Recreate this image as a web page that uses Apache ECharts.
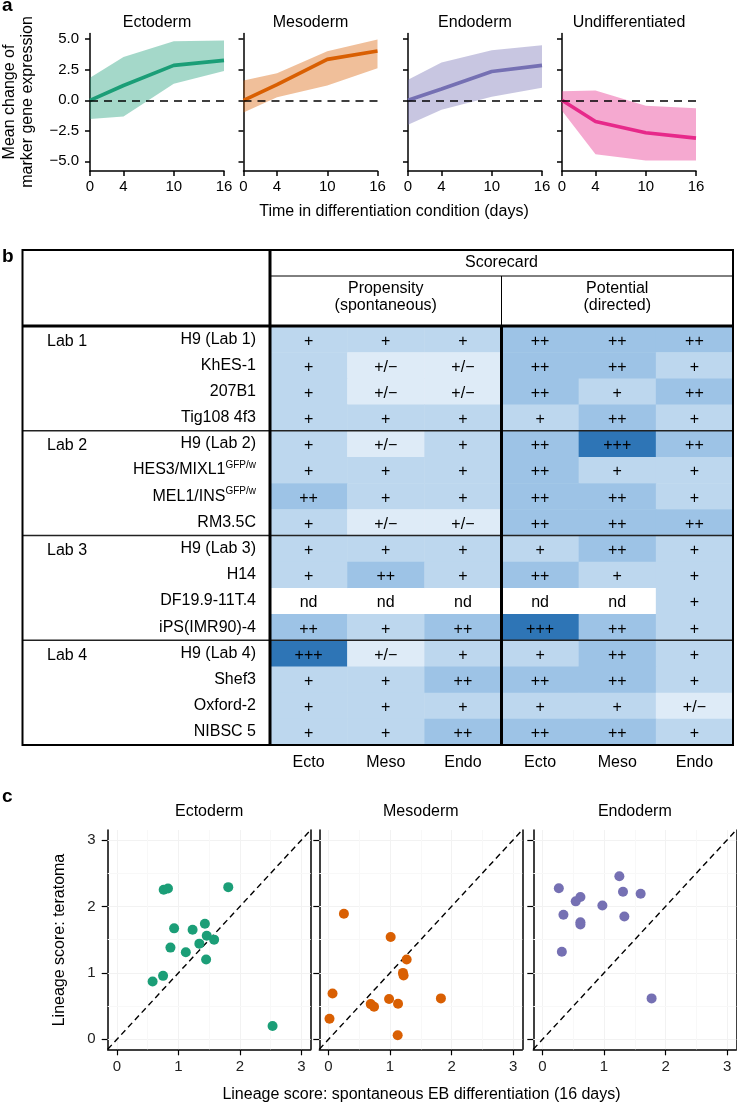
<!DOCTYPE html>
<html><head><meta charset="utf-8">
<script src="https://cdn.jsdelivr.net/npm/echarts@6/dist/echarts.min.js"></script>
<style>html,body{margin:0;padding:0;background:#fff}#c{width:737px;height:1104px}</style>
</head><body><div id="c"></div>
<script>
const FONT = '"Liberation Sans", Arial, Helvetica, sans-serif';

// ---------- Panel a data ----------
const days = [0, 4, 10, 16];
const panelANames = ['Ectoderm', 'Mesoderm', 'Endoderm', 'Undifferentiated'];
const panelAColors = ['#1b9e77', '#d95f02', '#7570b3', '#e7298a'];
const ectoMean = [0, 1.21, 2.86, 3.27];
const ectoUpper = [1.84, 3.54, 4.84, 4.89];
const ectoLower = [-1.54, -1.32, 1.35, 2.39];
const mesoMean = [0, 1.29, 3.35, 4.04];
const mesoUpper = [1.62, 2.22, 4.01, 4.97];
const mesoLower = [-0.99, 0.25, 1.21, 2.62];
const endoMean = [0, 0.93, 2.36, 2.86];
const endoUpper = [1.68, 3.10, 4.09, 4.50];
const endoLower = [-2.00, -0.77, 0.30, 1.02];
const undiffMean = [0, -1.73, -2.66, -3.10];
const undiffUpper = [0.74, 0.80, -0.44, -0.66];
const undiffLower = [-0.85, -4.42, -4.92, -4.92];
const yTicksA = [-5, -2.5, 0, 2.5, 5];

// ---------- Panel b data ----------
const columnLabels = ['Ecto', 'Meso', 'Endo', 'Ecto', 'Meso', 'Endo'];
const cellLines = ['H9 (Lab 1)', 'KhES-1', '207B1', 'Tig108 4f3',
  'H9 (Lab 2)', 'HES3/MIXL1', 'MEL1/INS', 'RM3.5C',
  'H9 (Lab 3)', 'H14', 'DF19.9-11T.4', 'iPS(IMR90)-4',
  'H9 (Lab 4)', 'Shef3', 'Oxford-2', 'NIBSC 5'];
const cellLineSup = ['', '', '', '', '', 'GFP/w', 'GFP/w', '', '', '', '', '', '', '', '', ''];
const labs = ['Lab 1', 'Lab 2', 'Lab 3', 'Lab 4'];
const labStartRows = [0, 4, 8, 12];
const scores = [
  ['+', '+', '+', '++', '++', '++'],
  ['+', '+/−', '+/−', '++', '++', '+'],
  ['+', '+/−', '+/−', '++', '+', '++'],
  ['+', '+', '+', '+', '++', '+'],
  ['+', '+/−', '+', '++', '+++', '++'],
  ['+', '+', '+', '++', '+', '+'],
  ['++', '+', '+', '++', '++', '+'],
  ['+', '+/−', '+/−', '++', '++', '++'],
  ['+', '+', '+', '+', '++', '+'],
  ['+', '++', '+', '++', '+', '+'],
  ['nd', 'nd', 'nd', 'nd', 'nd', '+'],
  ['++', '+', '++', '+++', '++', '+'],
  ['+++', '+/−', '+', '+', '++', '+'],
  ['+', '+', '++', '++', '++', '+'],
  ['+', '+', '+', '+', '+', '+/−'],
  ['+', '+', '++', '++', '++', '+']
];
const scoreColors = { 'nd': '#ffffff', '+/−': '#deebf7', '+': '#bdd7ee', '++': '#9dc3e6', '+++': '#2e75b6' };

// ---------- Panel c data ----------
const panelCNames = ['Ectoderm', 'Mesoderm', 'Endoderm'];
const panelCColors = ['#1b9e77', '#d95f02', '#7570b3'];
const ectoEB  = [0.76, 0.83, 1.81, 0.93, 1.23, 1.43, 1.46, 1.58, 1.34, 0.87, 1.12, 1.45, 0.75, 0.58, 2.53];
const ectoTer = [2.25, 2.27, 2.29, 1.67, 1.65, 1.74, 1.56, 1.50, 1.44, 1.38, 1.31, 1.20, 0.955, 0.87, 0.20];
const mesoEB  = [0.25, 0.065, 0.016, 0.686, 0.74, 1.01, 1.27, 1.21, 1.22, 0.984, 1.13, 1.827, 1.124];
const mesoTer = [1.89, 0.69, 0.31, 0.53, 0.49, 1.54, 1.20, 1.00, 0.96, 0.606, 0.535, 0.616, 0.061];
const endoEB  = [1.249, 0.265, 1.308, 1.595, 0.616, 0.54, 0.973, 0.34, 1.33, 0.616, 0.616, 0.314, 1.773];
const endoTer = [2.455, 2.273, 2.222, 2.192, 2.141, 2.076, 2.015, 1.874, 1.848, 1.76, 1.727, 1.318, 0.616];
const cTicks = [0, 1, 2, 3];

// ---------- build ----------
const chart = echarts.init(document.getElementById('c'), null, { renderer: 'canvas' });
const grids = [], xAxes = [], yAxes = [], series = [], graphics = [];
const txt = (s, x, y, opt) => ({
  type: 'text', x: x, y: y, z: 100,
  style: Object.assign({ text: s, font: '16px ' + FONT, fill: '#000', textAlign: 'center', textVerticalAlign: 'middle' }, opt || {})
});
const line = (x1, y1, x2, y2, w, col) => ({ type: 'line', z: 100, shape: { x1, y1, x2, y2 }, style: { stroke: col || '#000', lineWidth: w } });

// Panel a
const aMeans = [ectoMean, mesoMean, endoMean, undiffMean];
const aUppers = [ectoUpper, mesoUpper, endoUpper, undiffUpper];
const aLowers = [ectoLower, mesoLower, endoLower, undiffLower];
const aLefts = [90, 243.5, 408, 562];
for (let i = 0; i < 4; i++) {
  grids.push({ left: aLefts[i], top: 33.5, width: 134, height: 137.5, outerBoundsMode: 'none' });
  xAxes.push({
    type: 'value', gridIndex: i, min: 0, max: 16,
    axisLine: { onZero: false, lineStyle: { color: '#000', width: 1.5 } },
    axisTick: { show: true, customValues: days, length: 5, lineStyle: { color: '#000', width: 1.5 } },
    axisLabel: { customValues: days, fontSize: 15, fontFamily: FONT, color: '#000', margin: 8 },
    splitLine: { show: false }
  });
  yAxes.push({
    type: 'value', gridIndex: i, min: -5.79, max: 5.47,
    axisLine: { show: true, onZero: false, lineStyle: { color: '#000', width: 1.5 } },
    axisTick: { show: true, customValues: yTicksA, length: 5, lineStyle: { color: '#000', width: 1.5 } },
    axisLabel: { show: i === 0, customValues: yTicksA, fontSize: 15, fontFamily: FONT, color: '#000', margin: 11,
      formatter: v => v.toFixed(1).replace('-', '−') },
    splitLine: { show: false }
  });
  const col = panelAColors[i];
  series.push({
    type: 'custom', xAxisIndex: i, yAxisIndex: i, silent: true, z: 1,
    data: days.map((d, k) => [d, aLowers[i][k], aUppers[i][k]]),
    encode: { x: 0, y: [1, 2] },
    renderItem: function (params, api) {
      if (params.dataIndexInside !== 0) return null;
      const n = params.dataInsideLength, pts = [];
      for (let k = 0; k < n; k++) pts.push(api.coord([api.value(0, k), api.value(2, k)]));
      for (let k = n - 1; k >= 0; k--) pts.push(api.coord([api.value(0, k), api.value(1, k)]));
      return { type: 'polygon', shape: { points: pts }, style: { fill: col, opacity: 0.4 } };
    }
  });
  series.push({
    type: 'line', xAxisIndex: i, yAxisIndex: i,
    data: days.map((d, k) => [d, aMeans[i][k]]), symbol: 'none', silent: true,
    lineStyle: { color: col, width: 3.6 }, z: 3,
    markLine: { silent: true, symbol: 'none', label: { show: false },
      lineStyle: { color: '#000', type: [8, 6], width: 1.6 }, data: [{ yAxis: 0 }] }
  });
  graphics.push(txt(panelANames[i], aLefts[i] + 67, 23));
}
graphics.push(txt('a', 2, 6, { font: 'bold 19px ' + FONT, textAlign: 'left' }));
const ya = txt('Mean change of\nmarker gene expression', 19, 102, { lineHeight: 18 });
ya.rotation = Math.PI / 2;
graphics.push(ya);
graphics.push(txt('Time in differentiation condition (days)', 394, 212));

// Panel b (table)
const TL = 22.5, TR = 733, TT = 250, TB = 745, TH = 326, TV = 270;
const gb = grids.length;
grids.push({ left: TV, top: TH, width: TR - TV, height: TB - TH, outerBoundsMode: 'none' });
xAxes.push({
  type: 'category', gridIndex: gb, data: columnLabels, position: 'bottom',
  axisLine: { show: false }, axisTick: { show: false }, splitLine: { show: false },
  axisLabel: { interval: 0, fontSize: 16, fontFamily: FONT, color: '#000', margin: 10 }
});
yAxes.push({
  type: 'category', gridIndex: gb, data: cellLines, inverse: true,
  axisLine: { show: false }, axisTick: { show: false }, splitLine: { show: false },
  axisLabel: {
    interval: 0, margin: 14, color: '#000',
    formatter: (v, idx) => cellLineSup[idx] ? '{n|' + v + '}{s|' + cellLineSup[idx] + '}' : '{n|' + v + '}',
    rich: {
      n: { fontSize: 16, fontFamily: FONT, color: '#000' },
      s: { fontSize: 10, fontFamily: FONT, color: '#000', padding: [0, 0, 9, 0] }
    }
  }
});
const cellData = [];
scores.forEach((row, r) => row.forEach((s, c) => cellData.push([c, r])));
series.push({
  type: 'custom', xAxisIndex: gb, yAxisIndex: gb, silent: true, z: 2,
  data: cellData,
  renderItem: function (params, api) {
    const c = api.value(0), r = api.value(1);
    const p = api.coord([c, r]);
    const s = api.size([1, 1]);
    const sc = scores[r][c];
    return {
      type: 'group', children: [
        { type: 'rect', shape: { x: p[0] - s[0] / 2, y: p[1] - s[1] / 2, width: s[0] + 0.5, height: s[1] + 0.5 }, style: { fill: scoreColors[sc] } },
        { type: 'text', style: { text: sc, x: p[0], y: p[1] + 2, textAlign: 'center', textVerticalAlign: 'middle', font: '16px ' + FONT, fill: '#000' } }
      ]
    };
  }
});
series.push({
  type: 'custom', xAxisIndex: gb, yAxisIndex: gb, silent: true, z: 5,
  data: labStartRows.map((r, k) => [0, r, k]),
  renderItem: function (params, api) {
    const r = api.value(1), k = api.value(2);
    const p = api.coord([0, r]);
    const s = api.size([1, 1]);
    const ch = [{ type: 'text', style: { text: labs[k], x: 47, y: p[1] + 2, textAlign: 'left', textVerticalAlign: 'middle', font: '16px ' + FONT, fill: '#000' } }];
    if (k > 0) {
      const y = p[1] - s[1] / 2;
      ch.push({ type: 'line', shape: { x1: TL, y1: y, x2: TR, y2: y }, style: { stroke: '#222', lineWidth: 1.5 } });
    }
    return { type: 'group', children: ch };
  }
});
graphics.push(txt('b', 2, 257, { font: 'bold 19px ' + FONT, textAlign: 'left' }));
graphics.push({ type: 'rect', z: 100, shape: { x: TL, y: TT, width: TR - TL, height: TB - TT }, style: { fill: null, stroke: '#000', lineWidth: 2 } });
graphics.push(line(TV, 276, TR, 276, 1));
graphics.push(line(501.5, 276, 501.5, TH, 1));
graphics.push(line(TL, TH, TR, TH, 3));
graphics.push(line(TV, TT, TV, TB, 3));
graphics.push(line(501.5, TH, 501.5, TB, 3));
graphics.push(txt('Scorecard', (TV + TR) / 2, 263));
graphics.push(txt('Propensity\n(spontaneous)', (TV + 501.5) / 2, 297, { lineHeight: 17 }));
graphics.push(txt('Potential\n(directed)', (501.5 + TR) / 2, 297, { lineHeight: 17 }));

// Panel c
const cX = [ectoEB, mesoEB, endoEB];
const cY = [ectoTer, mesoTer, endoTer];
const cLefts = [107.7, 319.3, 533.3];
const gridMajor = [0, 1, 2, 3], gridMinor = [0.5, 1.5, 2.5];
for (let j = 0; j < 3; j++) {
  const g = grids.length;
  grids.push({ left: cLefts[j], top: 830, width: 203, height: 219.3, outerBoundsMode: 'none' });
  const xi = xAxes.length;
  xAxes.push({
    type: 'value', gridIndex: g, min: -0.15, max: 3.15,
    axisLine: { onZero: false, lineStyle: { color: '#000', width: 1.5 } },
    axisTick: { show: true, customValues: cTicks, length: 6, lineStyle: { color: '#000', width: 1.2 } },
    axisLabel: { customValues: cTicks, fontSize: 15, fontFamily: FONT, color: '#222', margin: 10 },
    splitLine: { show: false }
  });
  const yi = yAxes.length;
  yAxes.push({
    type: 'value', gridIndex: g, min: -0.15, max: 3.15, position: 'left',
    axisLine: { show: true, onZero: false, lineStyle: { color: '#000', width: 1.5 } },
    axisTick: { show: true, customValues: cTicks, length: 6, lineStyle: { color: '#000', width: 1.2 } },
    axisLabel: { show: j === 0, customValues: cTicks, fontSize: 15, fontFamily: FONT, color: '#222', margin: 12 },
    splitLine: { show: false }
  });
  yAxes.push({
    type: 'value', gridIndex: g, min: -0.15, max: 3.15, position: 'right',
    axisLine: { show: true, onZero: false, lineStyle: { color: '#000', width: 1.5 } },
    axisTick: { show: false }, axisLabel: { show: false }, splitLine: { show: false }
  });
  series.push({
    type: 'line', xAxisIndex: xi, yAxisIndex: yi, silent: true, z: 2,
    data: [[-0.15, -0.15], [3.15, 3.15]], symbol: 'none',
    lineStyle: { color: '#000', type: [6, 4], width: 1.4 },
    markLine: {
      silent: true, symbol: 'none', label: { show: false }, z: 1,
      data: gridMajor.map(v => ({ xAxis: v, lineStyle: { color: '#f2f2f2', width: 1, type: 'solid' } }))
        .concat(gridMajor.map(v => ({ yAxis: v, lineStyle: { color: '#f2f2f2', width: 1, type: 'solid' } })))
        .concat(gridMinor.map(v => ({ xAxis: v, lineStyle: { color: '#f8f8f8', width: 1, type: 'solid' } })))
        .concat(gridMinor.map(v => ({ yAxis: v, lineStyle: { color: '#f8f8f8', width: 1, type: 'solid' } })))
    }
  });
  series.push({
    type: 'scatter', xAxisIndex: xi, yAxisIndex: yi, silent: true, z: 4,
    data: cX[j].map((v, k) => [v, cY[j][k]]), symbolSize: 10,
    itemStyle: { color: panelCColors[j], opacity: 1 }
  });
  graphics.push(txt(panelCNames[j], cLefts[j] + 101.5, 812));
}
graphics.push(txt('c', 2, 797, { font: 'bold 19px ' + FONT, textAlign: 'left' }));
const yt = txt('Lineage score: teratoma', 60, 940);
yt.rotation = Math.PI / 2;
graphics.push(yt);
graphics.push(txt('Lineage score: spontaneous EB differentiation (16 days)', 421.5, 1095));

chart.setOption({
  animation: false,
  backgroundColor: '#fff',
  grid: grids, xAxis: xAxes, yAxis: yAxes, series: series,
  graphic: { elements: graphics }
});
</script></body></html>
